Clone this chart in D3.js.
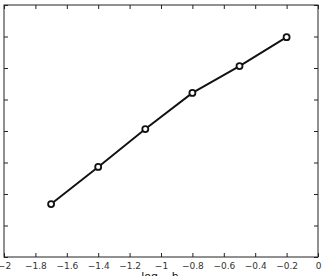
<!DOCTYPE html>
<html>
<head>
<meta charset="utf-8">
<script src="https://cdn.jsdelivr.net/npm/d3@7"></script>
<style>
  body { margin: 0; background: #fff; }
  svg { display: block; }
  .tick text { font-family: "DejaVu Sans", sans-serif; font-size: 9px; fill: #333; }
</style>
</head>
<body>
<svg id="chart" width="325" height="276"></svg>
<script>
// data
const logH = [-1.7, -1.4, -1.1, -0.8, -0.5, -0.2];
const logErr = [1.68, 2.86, 4.06, 5.21, 6.06, 6.98];
const xTicks = [-2, -1.8, -1.6, -1.4, -1.2, -1, -0.8, -0.6, -0.4, -0.2, 0];
const yTicks = [0, 1, 2, 3, 4, 5, 6, 7, 8];

const plotLeft = 4, plotRight = 318, plotTop = 5, plotBottom = 257;
const svg = d3.select("#chart");

const x = d3.scaleLinear().domain([-2, 0]).range([plotLeft, plotRight]);
const y = d3.scaleLinear().domain([0, 8]).range([plotBottom, plotTop]);
const fmt = d3.format("");

// frame
svg.append("rect")
  .attr("x", plotLeft).attr("y", plotTop)
  .attr("width", plotRight - plotLeft).attr("height", plotBottom - plotTop)
  .attr("fill", "none").attr("stroke", "#222").attr("stroke-width", 1);

// bottom axis
const xAxis = svg.append("g").attr("transform", `translate(0,${plotBottom})`)
  .call(d3.axisBottom(x).tickValues(xTicks).tickFormat(fmt).tickSizeInner(-4).tickSizeOuter(0).tickPadding(6));
xAxis.select(".domain").remove();

// top axis, ticks only
const xTop = svg.append("g").attr("transform", `translate(0,${plotTop})`)
  .call(d3.axisTop(x).tickValues(xTicks).tickFormat("").tickSizeInner(-4).tickSizeOuter(0));
xTop.select(".domain").remove();

// left axis (labels fall outside the crop)
const yAxis = svg.append("g").attr("transform", `translate(${plotLeft},0)`)
  .call(d3.axisLeft(y).tickValues(yTicks).tickFormat(fmt).tickSizeInner(-4).tickSizeOuter(0).tickPadding(5));
yAxis.select(".domain").remove();

const yRight = svg.append("g").attr("transform", `translate(${plotRight},0)`)
  .call(d3.axisRight(y).tickValues(yTicks).tickFormat("").tickSizeInner(-4).tickSizeOuter(0));
yRight.select(".domain").remove();

svg.selectAll(".tick line").attr("stroke", "#222");

// x label, mostly below the crop like the reference
const lab = svg.append("text")
  .attr("x", 160).attr("y", 280)
  .attr("text-anchor", "middle")
  .attr("font-family", "DejaVu Sans, sans-serif")
  .attr("font-size", 11)
  .attr("fill", "#111");
lab.append("tspan").text("log");
lab.append("tspan").attr("dy", 3).attr("font-size", 8).text("10");
lab.append("tspan").attr("dy", -3).text(" h");

// line + markers
const pts = logH.map((d, i) => [d, logErr[i]]);
svg.append("path")
  .datum(pts)
  .attr("fill", "none")
  .attr("stroke", "#111")
  .attr("stroke-width", 1.9)
  .attr("d", d3.line().x(d => x(d[0])).y(d => y(d[1])));

svg.selectAll("circle.pt")
  .data(pts)
  .join("circle")
  .attr("class", "pt")
  .attr("cx", d => x(d[0]))
  .attr("cy", d => y(d[1]))
  .attr("r", 3)
  .attr("fill", "#fff")
  .attr("stroke", "#111")
  .attr("stroke-width", 1.8);
</script>
</body>
</html>
